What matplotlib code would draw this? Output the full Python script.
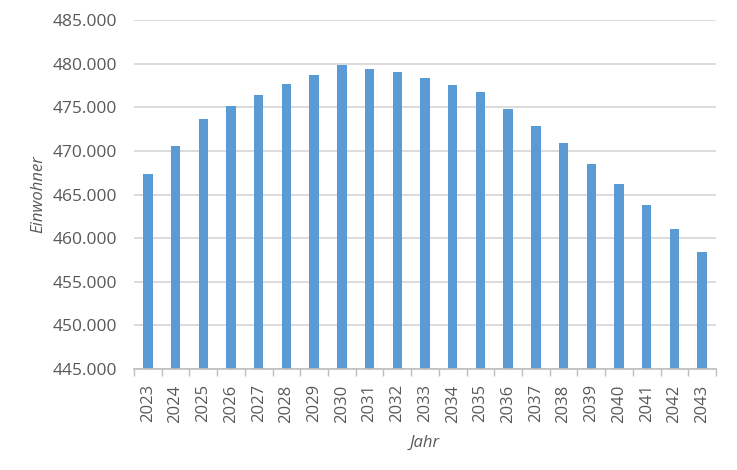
import numpy as np
import matplotlib
matplotlib.use("Agg")
import matplotlib.pyplot as plt
import matplotlib.ticker as mticker

# Bevölkerungsprognose
years = [2023, 2024, 2025, 2026, 2027, 2028, 2029, 2030, 2031, 2032, 2033,
         2034, 2035, 2036, 2037, 2038, 2039, 2040, 2041, 2042, 2043]
einwohner = [467300, 470600, 473700, 475200, 476450, 477700, 478700, 479800,
             479400, 479000, 478300, 477600, 476700, 474850, 472900, 470850,
             468550, 466150, 463750, 461100, 458400]

BAR_COLOR = "#5B9BD5"
GRID_COLOR = "#D9D9D9"
TEXT_COLOR = "#595959"

plt.rcParams['font.family'] = ['Open Sans', 'DejaVu Sans']

fig = plt.figure(figsize=(7.37, 4.70), dpi=100)
ax = fig.add_axes([0.1818, 0.2149, 0.9715 - 0.1818, 0.9574 - 0.2149])

x = np.arange(len(years))
ax.bar(x, einwohner, width=0.34, color=BAR_COLOR, zorder=3)

ax.set_ylim(445000, 485000)
ax.set_xlim(-0.5, len(years) - 0.5)
ax.yaxis.set_major_locator(mticker.MultipleLocator(5000))
ax.yaxis.set_major_formatter(
    mticker.FuncFormatter(lambda v, _: f"{v:,.0f}".replace(",", ".")))
ax.grid(axis='y', color=GRID_COLOR, linewidth=1.3, zorder=0)

ax.set_xticks(x)
ax.set_xticklabels([str(y) for y in years], rotation=90)
ax.set_xticks(np.arange(-0.5, len(years), 1.0), minor=True)
ax.tick_params(axis='x', which='major', length=0, pad=11,
               labelsize=12, labelcolor=TEXT_COLOR)
ax.tick_params(axis='x', which='minor', length=5, color="#BFBFBF", width=1)
ax.tick_params(axis='y', length=0, pad=12, labelsize=12.5, labelcolor=TEXT_COLOR)

for side in ['left', 'right', 'top']:
    ax.spines[side].set_visible(False)
ax.spines['bottom'].set_color("#BFBFBF")
ax.spines['bottom'].set_linewidth(1.2)
ax.spines['bottom'].set_zorder(4)

ax.set_xlabel("Jahr", fontsize=12, style='italic', color=TEXT_COLOR, labelpad=9)
ax.set_ylabel("Einwohner", fontsize=12, style='italic', color=TEXT_COLOR, labelpad=5)

fig.savefig("out.png", dpi=100)
